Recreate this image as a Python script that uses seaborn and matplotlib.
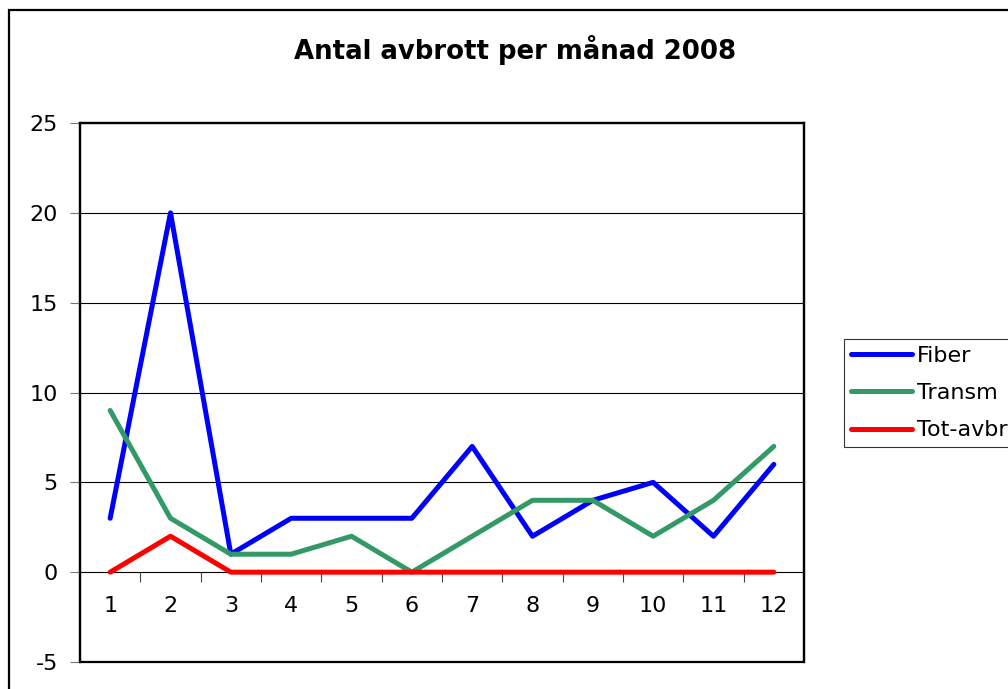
import matplotlib
matplotlib.use("Agg")
import matplotlib.pyplot as plt
from matplotlib.patches import Rectangle
import seaborn as sns
import pandas as pd
import numpy as np

months = list(range(1, 13))
fiber = [3, 20, 1, 3, 3, 3, 7, 2, 4, 5, 2, 6]
transm = [9, 3, 1, 1, 2, 0, 2, 4, 4, 2, 4, 7]
tot_avbr = [0, 2, 0, 0, 0, 0, 0, 0, 0, 0, 0, 0]
series_names = ["Fiber", "Transm", "Tot-avbr"]
colors = ["#0000FF", "#339966", "#FF0000"]
title = "Antal avbrott per månad 2008"
yticks = [-5, 0, 5, 10, 15, 20, 25]

df = pd.DataFrame({
    "Månad": months * 3,
    "Antal": fiber + transm + tot_avbr,
    "Serie": [series_names[0]] * 12 + [series_names[1]] * 12 + [series_names[2]] * 12,
})

sns.set_theme(style="white")
plt.rcParams["font.family"] = ["DejaVu Sans"]
plt.rcParams["text.color"] = "black"
plt.rcParams["xtick.color"] = "black"
plt.rcParams["ytick.color"] = "black"

fig = plt.figure(figsize=(10.08, 6.89), dpi=100)
ax = fig.add_axes([80 / 1008, 1 - 662 / 689, (804 - 80) / 1008, (662 - 123) / 689])

sns.lineplot(data=df, x="Månad", y="Antal", hue="Serie", palette=colors,
             hue_order=series_names, linewidth=3.6, ax=ax, legend=False, zorder=3,
             solid_capstyle="round", solid_joinstyle="round")

ax.set_xlim(0.5, 12.5)
ax.set_ylim(-5, 25)
ax.set_yticks(yticks)
ax.set_yticklabels([str(v) for v in yticks])
ax.set_xticks(months)
ax.set_xticklabels([str(m) for m in months])
ax.set_xticks(np.arange(1.5, 12.5, 1.0), minor=True)
ax.set_xlabel("")
ax.set_ylabel("")

# horizontal gridlines
for v in [5, 10, 15, 20]:
    ax.axhline(v, color="black", linewidth=0.8, zorder=1)

# x axis crosses at 0
ax.spines["bottom"].set_position(("data", 0))
ax.spines["bottom"].set_linewidth(0.8)
ax.spines["bottom"].set_color("black")
for s in ["left", "top", "right"]:
    ax.spines[s].set_linewidth(1.6)
    ax.spines[s].set_color("black")
ax.add_patch(Rectangle((0, 0), 1, 1, transform=ax.transAxes, fill=False,
                       edgecolor="black", linewidth=1.6, clip_on=False, zorder=5))

ax.tick_params(axis="x", which="major", length=0, pad=17, labelsize=16, labelcolor="black")
ax.tick_params(axis="x", which="minor", length=7, width=0.8, color="#444444", direction="out", bottom=True)
ax.tick_params(axis="y", which="major", length=7, width=0.8, color="#777777", direction="out",
               pad=9, left=True, labelsize=16, labelcolor="black")

fig.text(515 / 1008, 1 - 50 / 689, title, ha="center", va="center",
         fontsize=18.7, fontweight="bold", color="black")

handles = [plt.Line2D([], [], color=c, linewidth=3.6, solid_capstyle="round") for c in colors]
leg = fig.legend(handles, series_names, loc="upper left",
                 bbox_to_anchor=(844 / 1008, 1 - 339 / 689), fontsize=16,
                 frameon=True, fancybox=False, handlelength=2.75, handletextpad=0.23,
                 labelspacing=0.78, borderpad=0.3, borderaxespad=0)
leg.get_frame().set_edgecolor("black")
leg.get_frame().set_linewidth(0.8)
for t in leg.get_texts():
    t.set_color("black")

fig.patches.append(Rectangle((9 / 1008, -0.1), 1.2, 0.1 + (1 - 10 / 689),
                             transform=fig.transFigure, fill=False,
                             edgecolor="black", linewidth=1.6, figure=fig))

fig.savefig("out.png", dpi=100)
